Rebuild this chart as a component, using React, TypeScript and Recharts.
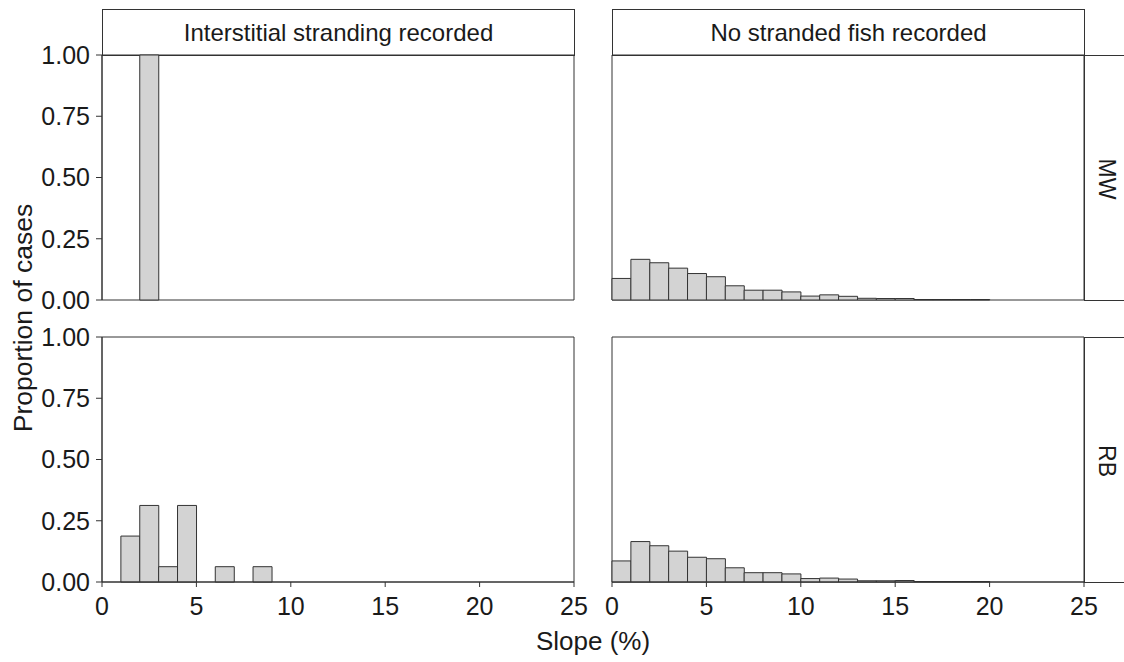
import { BarChart, Bar, XAxis, YAxis, ReferenceArea } from "recharts";

// histogram bins of slope (%), 1% wide
const binMid = [0.5, 1.5, 2.5, 3.5, 4.5, 5.5, 6.5, 7.5, 8.5, 9.5, 10.5, 11.5, 12.5, 13.5, 14.5, 15.5, 16.5, 17.5, 18.5, 19.5, 20.5, 21.5, 22.5, 23.5, 24.5];

const xTicks = [0, 5, 10, 15, 20, 25];
const yTicks = [0, 0.25, 0.5, 0.75, 1];

const columns = ["Interstitial stranding recorded", "No stranded fish recorded"];
const rows = ["MW", "RB"];

// proportion of cases per bin
const mwStranded = [0, 0, 1, 0, 0, 0, 0, 0, 0, 0, 0, 0, 0, 0, 0, 0, 0, 0, 0, 0, 0, 0, 0, 0, 0];
const mwNone = [0.088, 0.166, 0.152, 0.13, 0.108, 0.095, 0.058, 0.04, 0.04, 0.033, 0.016, 0.021, 0.015, 0.007, 0.006, 0.006, 0.002, 0.002, 0.002, 0.002, 0, 0, 0, 0, 0];
const rbStranded = [0, 0.1875, 0.3125, 0.0625, 0.3125, 0, 0.0625, 0, 0.0625, 0, 0, 0, 0, 0, 0, 0, 0, 0, 0, 0, 0, 0, 0, 0, 0];
const rbNone = [0.086, 0.165, 0.148, 0.126, 0.101, 0.095, 0.058, 0.038, 0.038, 0.033, 0.014, 0.016, 0.012, 0.005, 0.005, 0.006, 0.002, 0.002, 0.002, 0.002, 0, 0, 0, 0, 0];

const FONT = '"Liberation Sans", Arial, sans-serif';
const INK = "#333";
const TEXT = "#1a1a1a";
const PLOT_W = 472;
const PLOT_H = 245;
const COL_X = [102, 612];
const ROW_Y = [55, 337];
const PAD = 30;

function Panel({ values, col, row }: { values: number[]; col: number; row: number }) {
  const data = binMid.map((x, i) => ({ x, p: values[i] }));
  const showY = col === 0;
  const showX = row === 1;
  const yW = showY ? COL_X[0] : 0;
  const mLeft = showY ? 0 : PAD;
  const width = mLeft + yW + PLOT_W + PAD;
  const xH = showX ? 50 : 0;
  const mBottom = showX ? 0 : PAD;
  const height = PAD + PLOT_H + xH + mBottom;
  return (
    <div style={{ position: "absolute", left: showY ? 0 : COL_X[1] - PAD, top: ROW_Y[row] - PAD }}>
      <BarChart
        width={width}
        height={height}
        data={data}
        barCategoryGap={0}
        barGap={0}
        margin={{ top: PAD, right: PAD, bottom: mBottom, left: mLeft }}
      >
        <XAxis
          type="number"
          dataKey="x"
          domain={[0, 25]}
          ticks={xTicks}
          interval={0}
          hide={!showX}
          height={xH}
          tickSize={5}
          tickMargin={10}
          stroke={INK}
          tick={{ fill: TEXT, fontSize: 25, fontFamily: FONT }}
        />
        <YAxis
          type="number"
          domain={[0, 1]}
          ticks={yTicks}
          interval={0}
          hide={!showY}
          width={yW}
          tickSize={6}
          tickMargin={6}
          stroke={INK}
          tickFormatter={(v: number) => v.toFixed(2)}
          tick={{ fill: TEXT, fontSize: 25, fontFamily: FONT }}
        />
        <Bar dataKey="p" fill="#d3d3d3" stroke={INK} strokeWidth={1} isAnimationActive={false} />
        <ReferenceArea x1={0} x2={25} y1={0} y2={1} fill="none" stroke={INK} strokeWidth={1} ifOverflow="visible" />
      </BarChart>
    </div>
  );
}

export default function App() {
  const grid = [
    [mwStranded, mwNone],
    [rbStranded, rbNone],
  ];
  return (
    <div style={{ position: "fixed", left: 0, top: 0, width: 1124, height: 662, overflow: "hidden", background: "#fff", fontFamily: FONT, color: TEXT }}>
      {columns.map((c, i) => (
        <div
          key={c}
          style={{
            position: "absolute",
            left: COL_X[i],
            top: 9,
            width: PLOT_W + 1,
            height: 47,
            boxSizing: "border-box",
            border: `1px solid ${INK}`,
            display: "flex",
            alignItems: "center",
            justifyContent: "center",
            fontSize: 24,
            whiteSpace: "nowrap",
          }}
        >
          {c}
        </div>
      ))}
      {rows.map((r, i) => (
        <div
          key={r}
          style={{
            position: "absolute",
            left: COL_X[1] + PLOT_W,
            top: ROW_Y[i],
            width: 80,
            height: PLOT_H + 1,
            boxSizing: "border-box",
            border: `1px solid ${INK}`,
          }}
        >
          <span
            style={{
              position: "absolute",
              left: 21,
              top: PLOT_H / 2,
              transform: "translate(-50%, -50%) rotate(90deg)",
              whiteSpace: "nowrap",
              fontSize: 23,
            }}
          >
            {r}
          </span>
        </div>
      ))}
      {grid.map((rowVals, r) => rowVals.map((v, c) => <Panel key={`${r}-${c}`} values={v} col={c} row={r} />))}
      <span style={{ position: "absolute", left: 593, top: 641, transform: "translate(-50%, -50%)", whiteSpace: "nowrap", fontSize: 26 }}>
        Slope (%)
      </span>
      <span
        style={{
          position: "absolute",
          left: 23,
          top: 318,
          transform: "translate(-50%, -50%) rotate(-90deg)",
          whiteSpace: "nowrap",
          fontSize: 26.5,
        }}
      >
        Proportion of cases
      </span>
    </div>
  );
}
